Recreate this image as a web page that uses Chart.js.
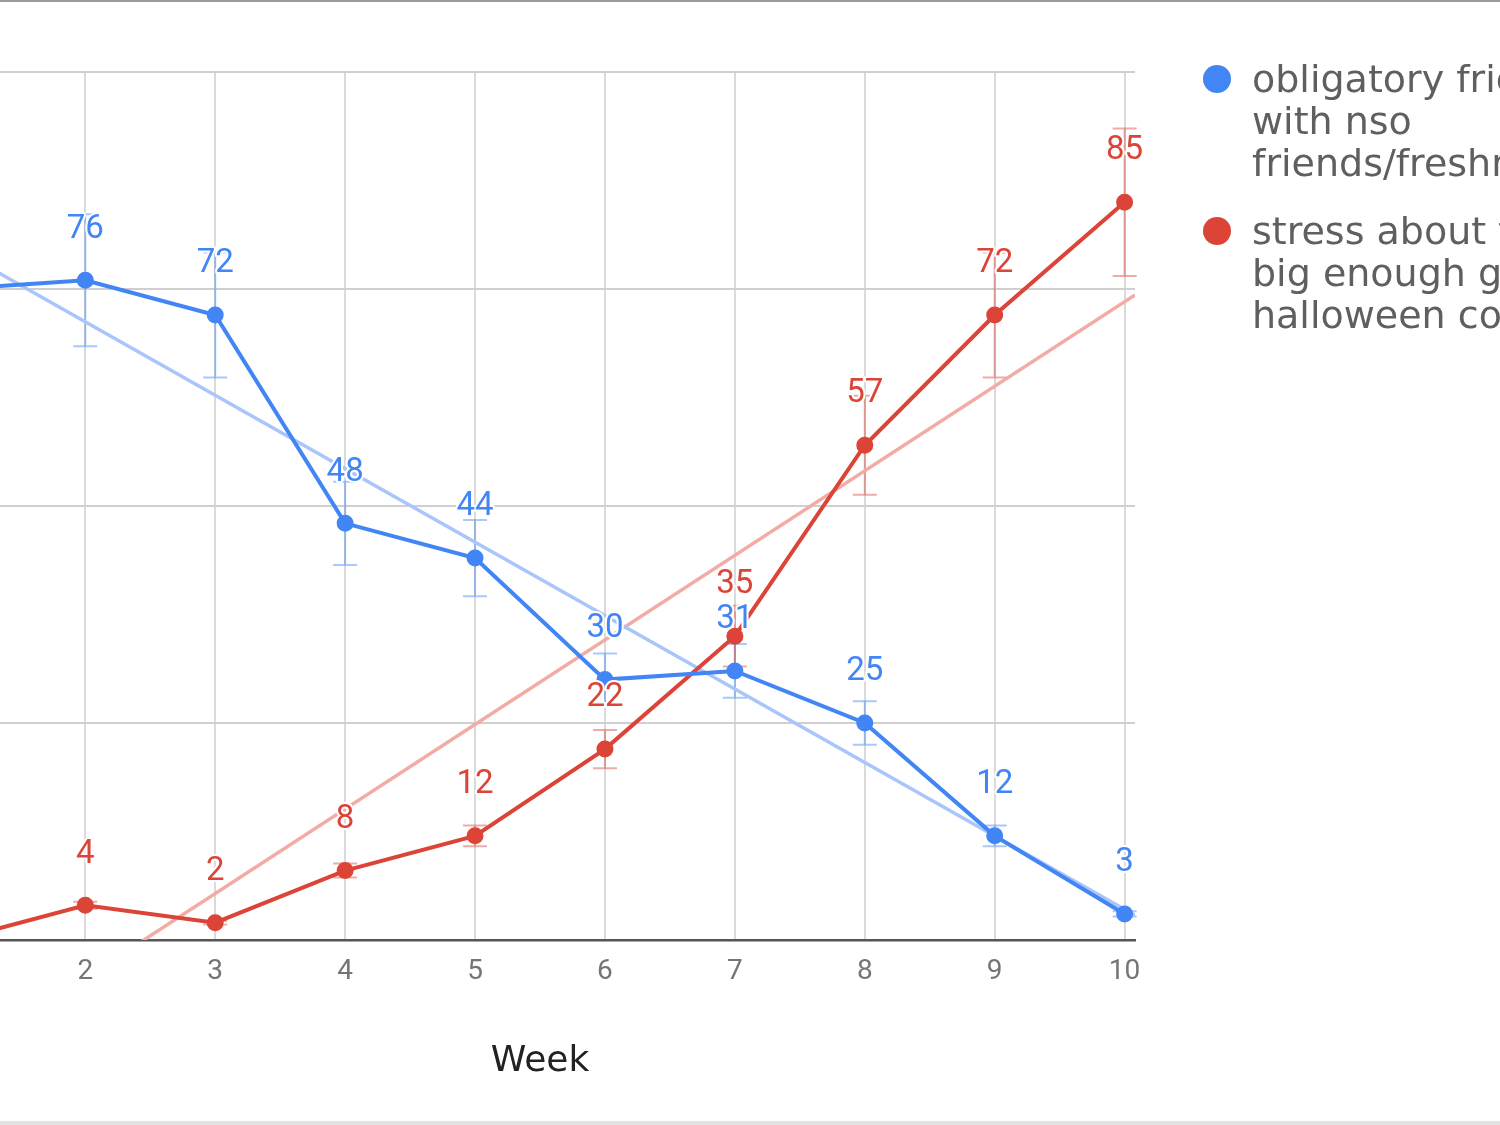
<!DOCTYPE html>
<html>
<head>
<meta charset="utf-8">
<script src="https://cdn.jsdelivr.net/npm/chart.js@4/dist/chart.umd.min.js"></script>
<style>
    html, body { margin: 0; padding: 0; background: #fff; }
    body { width: 1500px; height: 1125px; overflow: hidden; position: relative; }
    #chart { position: absolute; left: -200px; top: 0; }
    .edge-top { position: absolute; left: 0; top: 0; width: 1500px; height: 2px; background: #9a9a9a; }
    .edge-bottom { position: absolute; left: 0; top: 1121px; width: 1500px; height: 4px; background: #e2e2e2; }
    .legend-item { position: absolute; left: 1200px; white-space: nowrap; }
    .legend-item .dot { position: absolute; left: 3px; top: 7px; width: 28px; height: 28px; border-radius: 50%; }
    .legend-item .text { position: absolute; left: 52px; top: 0; font-family: 'DejaVu Sans', sans-serif; font-size: 38px; line-height: 42px; color: #5f5f5f; }
</style>
</head>
<body>
<canvas id="chart" width="1700" height="1125"></canvas>
<div class="edge-top"></div>
<div class="edge-bottom"></div>
<div id="legend"></div>
<script>
const weeks = [1, 2, 3, 4, 5, 6, 7, 8, 9, 10]
const funValues = [75, 76, 72, 48, 44, 30, 31, 25, 12, 3]
const stressValues = [0, 4, 2, 8, 12, 22, 35, 57, 72, 85]
const yTicks = [0, 25, 50, 75, 100]
const errorPercent = 10

const funLabel = ["obligatory friendships", "with nso", "friends/freshmen"]
const stressLabel = ["stress about finding a", "big enough group for", "halloween costumes"]

const blue = '#4285f4'
const red = '#db4437'
const xMin = 0.92
const xMax = 10.08

// least squares trendline, same as the original's linear trendline
function trend(xs, ys) {
    let n = xs.length
    let mx = xs.reduce((a, b) => a + b, 0) / n
    let my = ys.reduce((a, b) => a + b, 0) / n
    let sxy = 0, sxx = 0
    for (let i = 0; i < n; i++) {
        sxy += (xs[i] - mx) * (ys[i] - my)
        sxx += (xs[i] - mx) * (xs[i] - mx)
    }
    let slope = sxy / sxx
    let icpt = my - slope * mx
    return [xMin, xMax].map(x => ({ x: x, y: icpt + slope * x }))
}

function points(ys) {
    return weeks.map((w, i) => ({ x: w, y: ys[i] }))
}

// legend drawn as html so the lines can wrap like the original
function legendItem(top, color, lines) {
    let div = document.createElement('div')
    div.className = 'legend-item'
    div.style.top = top + 'px'
    div.innerHTML = '<span class="dot" style="background:' + color + '"></span>' +
        '<span class="text">' + lines.join('<br>') + '</span>'
    document.getElementById('legend').appendChild(div)
}
legendItem(58, blue, funLabel)
legendItem(210, red, stressLabel)

const errorBars = {
    id: 'errorBars',
    beforeDatasetsDraw(chart) {
        const ctx = chart.ctx
        const xs = chart.scales.x, ys = chart.scales.y
        chart.data.datasets.forEach(ds => {
            if (!ds.errorColor) return
            ctx.save()
            ctx.strokeStyle = ds.errorColor
            ctx.lineWidth = 2
            ds.data.forEach(p => {
                let px = xs.getPixelForValue(p.x)
                let top = ys.getPixelForValue(p.y * (1 + errorPercent / 100))
                let bot = ys.getPixelForValue(p.y * (1 - errorPercent / 100))
                ctx.beginPath()
                ctx.moveTo(px, top); ctx.lineTo(px, bot)
                ctx.moveTo(px - 12, top); ctx.lineTo(px + 12, top)
                ctx.moveTo(px - 12, bot); ctx.lineTo(px + 12, bot)
                ctx.stroke()
            })
            ctx.restore()
        })
    }
}

const valueLabels = {
    id: 'valueLabels',
    afterDatasetsDraw(chart) {
        const ctx = chart.ctx
        ctx.save()
        ctx.font = "33px Roboto"
        ctx.textAlign = 'center'
        ctx.textBaseline = 'middle'
        ctx.lineJoin = 'round'
        chart.data.datasets.forEach((ds, i) => {
            if (!ds.errorColor) return
            chart.getDatasetMeta(i).data.forEach((el, j) => {
                let txt = String(ds.data[j].y)
                ctx.strokeStyle = '#fff'
                ctx.lineWidth = 4
                ctx.strokeText(txt, el.x, el.y - 51)
                ctx.fillStyle = ds.borderColor
                ctx.fillText(txt, el.x, el.y - 51)
            })
        })
        ctx.restore()
    }
}

const ctx = document.getElementById('chart').getContext('2d')
const chart = new Chart(ctx, {
    type: 'line',
    data: {
        datasets: [{
            label: funLabel.join(' '),
            data: points(funValues),
            borderColor: blue,
            backgroundColor: blue,
            errorColor: 'rgba(66, 133, 244, 0.45)',
            borderWidth: 4,
            pointRadius: 6.5,
            pointHoverRadius: 6.5,
            order: 0,
        }, {
            label: stressLabel.join(' '),
            data: points(stressValues),
            borderColor: red,
            backgroundColor: red,
            errorColor: 'rgba(219, 68, 55, 0.45)',
            borderWidth: 4,
            pointRadius: 6.5,
            pointHoverRadius: 6.5,
            order: 1,
        }, {
            label: 'fun trend',
            data: trend(weeks, funValues),
            borderColor: '#a8c6fa',
            borderWidth: 3.5,
            pointRadius: 0,
            order: 3,
        }, {
            label: 'stress trend',
            data: trend(weeks, stressValues),
            borderColor: '#f3aca5',
            borderWidth: 3.5,
            pointRadius: 0,
            order: 3,
        }]
    },
    options: {
        responsive: false,
        animation: false,
        layout: {
            padding: { left: 45, right: 365, top: 72, bottom: 38 }
        },
        scales: {
            x: {
                type: 'linear',
                min: xMin,
                max: xMax,
                afterBuildTicks: (axis) => { axis.ticks = weeks.map(w => ({ value: w })) },
                afterFit: (axis) => { axis.height = 147 },
                ticks: {
                    padding: 15,
                    color: '#757575',
                    font: { family: 'Roboto', size: 28 },
                },
                grid: {
                    color: '#dadada',
                    lineWidth: 2,
                    drawTicks: false,
                },
                border: { color: '#555', width: 2.5 },
                title: {
                    display: true,
                    text: 'Week',
                    color: '#222',
                    font: { family: "'DejaVu Sans', sans-serif", size: 36 },
                    padding: { top: 4, bottom: 4 },
                },
            },
            y: {
                min: 0,
                max: 100,
                afterBuildTicks: (axis) => { axis.ticks = yTicks.map(v => ({ value: v })) },
                afterFit: (axis) => { axis.width = 100 },
                ticks: {
                    color: '#757575',
                    font: { family: 'Roboto', size: 28 },
                },
                grid: {
                    color: (c) => c.tick && c.tick.value === 0 ? '#555' : '#cfcfcf',
                    lineWidth: 2,
                    drawTicks: false,
                },
                border: { display: false },
            },
        },
        plugins: {
            legend: { display: false },
            tooltip: { enabled: false },
        }
    },
    plugins: [errorBars, valueLabels]
})
</script>
</body>
</html>
